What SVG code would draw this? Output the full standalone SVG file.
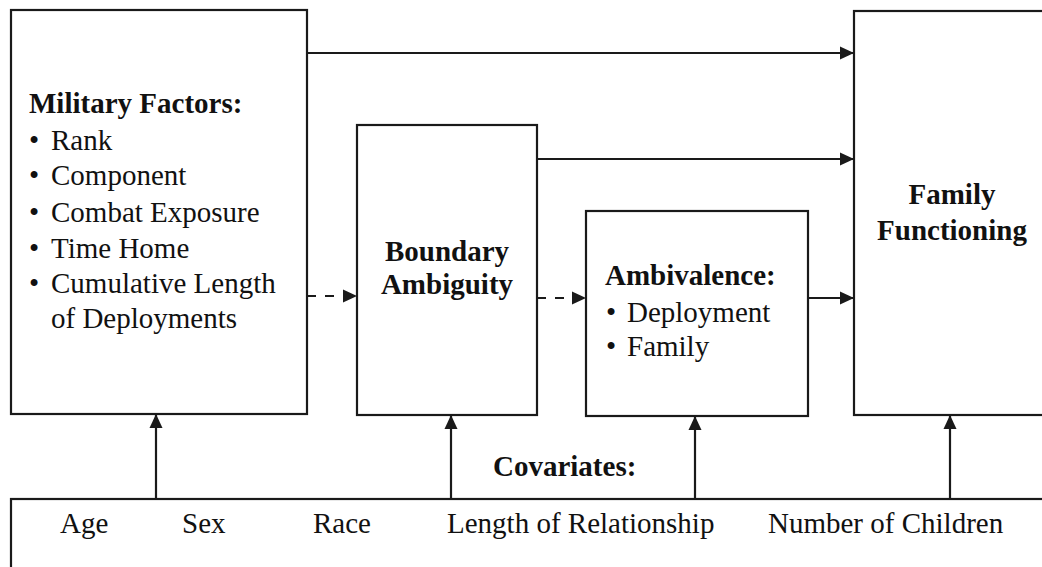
<svg xmlns="http://www.w3.org/2000/svg" width="1042" height="567" viewBox="0 0 1042 567">
<style>
.box{fill:#fff;stroke:#1a1a1a;stroke-width:2.2}
.t{font-family:"Liberation Serif","Times New Roman",serif;font-size:29px;fill:#111}
.b{font-weight:bold}
.c{text-anchor:middle}
.ln{stroke:#1a1a1a;stroke-width:2.2;fill:none}
.d{stroke-dasharray:9 9}
</style>
<defs>
<marker id="ah" markerUnits="userSpaceOnUse" markerWidth="16" markerHeight="16" viewBox="0 0 16 16" refX="15" refY="8" orient="auto">
<path d="M1,1.5 L15,8 L1,14.5 Z" fill="#1a1a1a"/>
</marker>
</defs>
<rect x="0" y="0" width="1042" height="567" fill="#fff"/>
<g id="military">
<rect class="box" x="11" y="10" width="296" height="404"/>
<text class="t b" x="29" y="113">Military Factors:</text>
<text class="t" x="29" y="150">•</text><text class="t" x="51" y="150">Rank</text>
<text class="t" x="29" y="185">•</text><text class="t" x="51" y="185">Component</text>
<text class="t" x="29" y="222">•</text><text class="t" x="51" y="222">Combat Exposure</text>
<text class="t" x="29" y="258">•</text><text class="t" x="51" y="258">Time Home</text>
<text class="t" x="29" y="293">•</text><text class="t" x="51" y="293">Cumulative Length</text>
<text class="t" x="51" y="328">of Deployments</text>
</g>
<g id="boundary">
<rect class="box" x="357" y="125" width="180" height="290"/>
<text class="t b c" x="447" y="261">Boundary</text>
<text class="t b c" x="447" y="294">Ambiguity</text>
</g>
<g id="ambivalence">
<rect class="box" x="586" y="211" width="222" height="205"/>
<text class="t b" x="605" y="285">Ambivalence:</text>
<text class="t" x="606" y="322">•</text><text class="t" x="627" y="322">Deployment</text>
<text class="t" x="606" y="356">•</text><text class="t" x="627" y="356">Family</text>
</g>
<g id="family">
<rect class="box" x="854" y="11" width="200" height="404"/>
<text class="t b c" x="952" y="204">Family</text>
<text class="t b c" x="952" y="240">Functioning</text>
</g>
<g id="covariates">
<rect class="box" x="11" y="499" width="1045" height="90"/>
<text class="t b" x="493" y="476">Covariates:</text>
<text class="t" x="60" y="533">Age</text>
<text class="t" x="182" y="533">Sex</text>
<text class="t" x="313" y="533">Race</text>
<text class="t" x="447" y="533">Length of Relationship</text>
<text class="t" x="768" y="533">Number of Children</text>
</g>
<g id="connectors">
<line class="ln" x1="307" y1="53" x2="854" y2="53" marker-end="url(#ah)"/>
<line class="ln" x1="537" y1="159" x2="854" y2="159" marker-end="url(#ah)"/>
<line class="ln" x1="808" y1="298" x2="854" y2="298" marker-end="url(#ah)"/>
<line class="ln d" x1="307" y1="296" x2="357" y2="296" marker-end="url(#ah)"/>
<line class="ln d" x1="537" y1="298" x2="586" y2="298" marker-end="url(#ah)"/>
<line class="ln" x1="156" y1="499" x2="156" y2="414" marker-end="url(#ah)"/>
<line class="ln" x1="451" y1="499" x2="451" y2="415" marker-end="url(#ah)"/>
<line class="ln" x1="695" y1="499" x2="695" y2="416" marker-end="url(#ah)"/>
<line class="ln" x1="950" y1="499" x2="950" y2="415" marker-end="url(#ah)"/>
</g>
</svg>
